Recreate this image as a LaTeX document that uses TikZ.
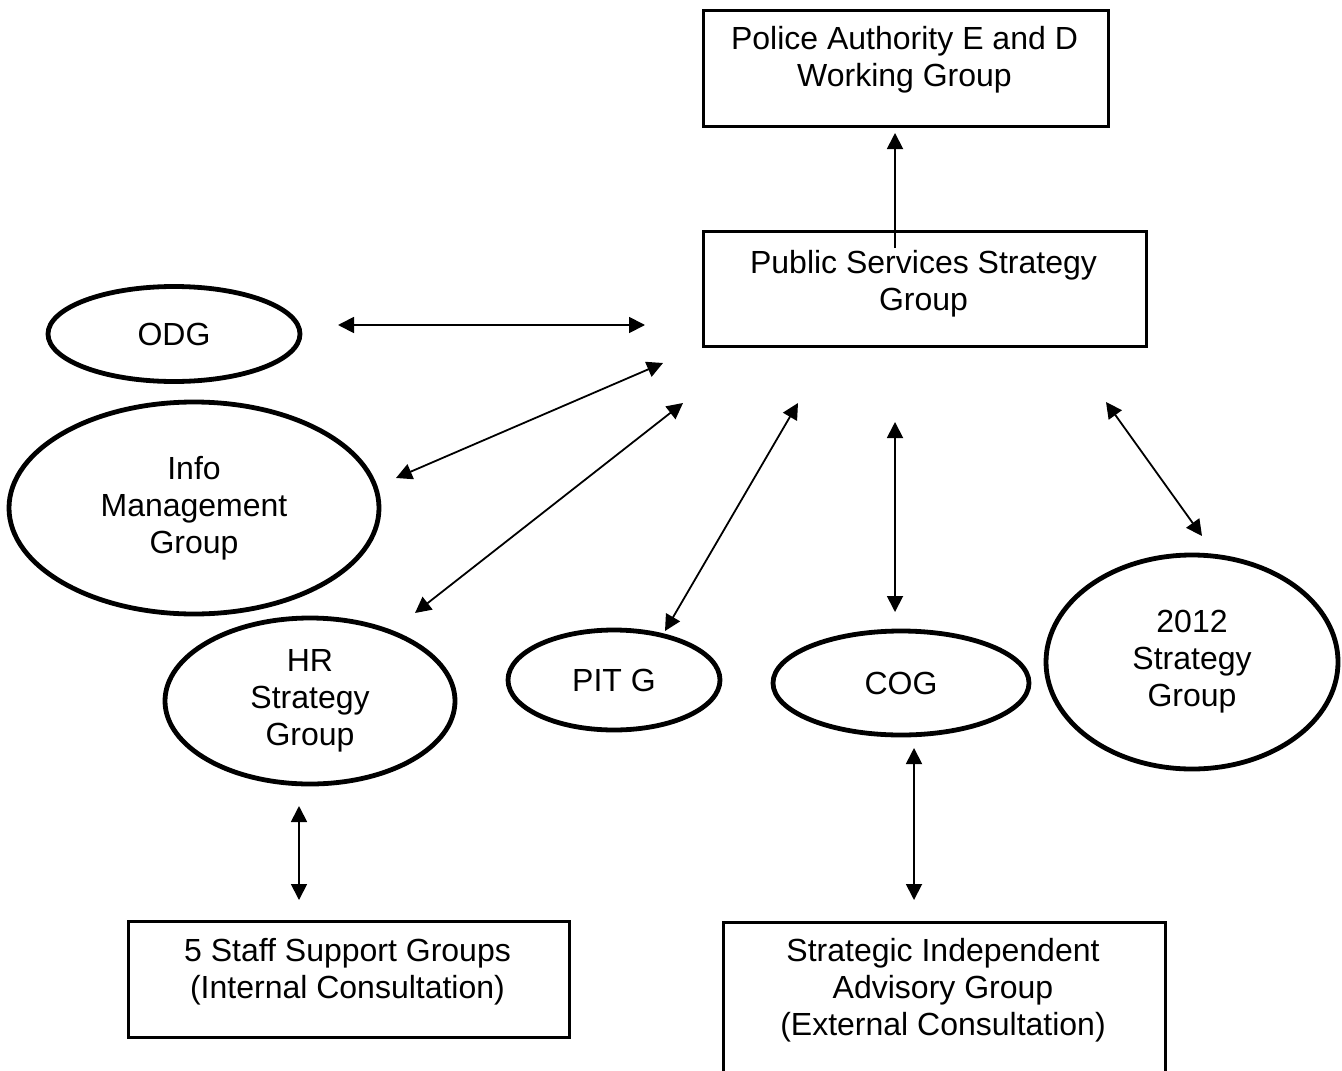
\documentclass[tikz,border=0pt]{standalone}
\usepackage{fontspec}
\setmainfont{Liberation Sans}
\usetikzlibrary{shapes.geometric,arrows.meta}
\newcommand{\fsz}{\fontsize{16}{18.5}\selectfont}
\begin{document}
\begin{tikzpicture}[x=0.5pt,y=-0.5pt,
  box/.style={draw,line width=1.35pt,inner sep=0,anchor=north west},
  ell/.style={draw,ellipse,line width=2.4pt,inner sep=0,align=center,font=\fsz},
  txt/.style={align=center,font=\fsz,inner sep=0,anchor=base},
  arr/.style={line width=0.9pt,{Triangle[length=8pt,width=8pt]}-{Triangle[length=8pt,width=8pt]}},
  uparr/.style={line width=0.9pt,-{Triangle[length=8pt,width=8pt]}},
]
\useasboundingbox (0,0) rectangle (1342,1070);

% boxes
\node[box,minimum width=202.5pt,minimum height=58pt] (police) at (702,9) {};
\node[txt] (policeT) at (904.5,87) {Police Authority E and D\\Working Group};

\node[box,minimum width=221.5pt,minimum height=57.5pt] (pssg) at (702,230) {};
\node[txt] (pssgT) at (923.5,310) {Public Services Strategy\\Group};

\node[box,minimum width=220.5pt,minimum height=58pt] (staff) at (127,920) {};
\node[txt] (staffT) at (347.5,998.5) {5 Staff Support Groups\\(Internal Consultation)};

\node[box,minimum width=221pt,minimum height=76pt] (siag) at (722,921) {};
\node[txt] (siagT) at (943,1035) {Strategic Independent\\Advisory Group\\(External Consultation)};

% ellipses
\node[ell,minimum width=126pt,minimum height=47.5pt] (odg) at (174,334) {ODG};
\node[ell,minimum width=185pt,minimum height=106pt] (info) at (194,508) {Info\\Management\\Group};
\node[ell,minimum width=145pt,minimum height=83pt] (hr) at (310,701) {HR\\Strategy\\Group};
\node[ell,minimum width=106pt,minimum height=50pt] (pit) at (614,680) {PIT G};
\node[ell,minimum width=128pt,minimum height=52pt] (cog) at (901,683) {COG};
\node[ell,minimum width=146pt,minimum height=107pt] (y2012) at (1192,662) {2012\\Strategy\\Group};

% free arrow ends
\coordinate (pA) at (895,248);  \coordinate (pB) at (895,133);
\coordinate (oA) at (338,325);  \coordinate (oB) at (645,325);
\coordinate (iA) at (396,478);  \coordinate (iB) at (663,363);
\coordinate (hA) at (415,613);  \coordinate (hB) at (683,403);
\coordinate (tA) at (665,631);  \coordinate (tB) at (798,403);
\coordinate (cA) at (895,612);  \coordinate (cB) at (895,422);
\coordinate (yA) at (1202,536); \coordinate (yB) at (1106,402);
\coordinate (sA) at (299,806);  \coordinate (sB) at (299,900);
\coordinate (gA) at (914,748);  \coordinate (gB) at (914,900);

\draw[uparr] (pA) -- (pB);
\draw[arr] (oA) -- (oB);
\draw[arr] (iA) -- (iB);
\draw[arr] (hA) -- (hB);
\draw[arr] (tA) -- (tB);
\draw[arr] (cA) -- (cB);
\draw[arr] (yA) -- (yB);
\draw[arr] (sA) -- (sB);
\draw[arr] (gA) -- (gB);
\end{tikzpicture}
\end{document}
